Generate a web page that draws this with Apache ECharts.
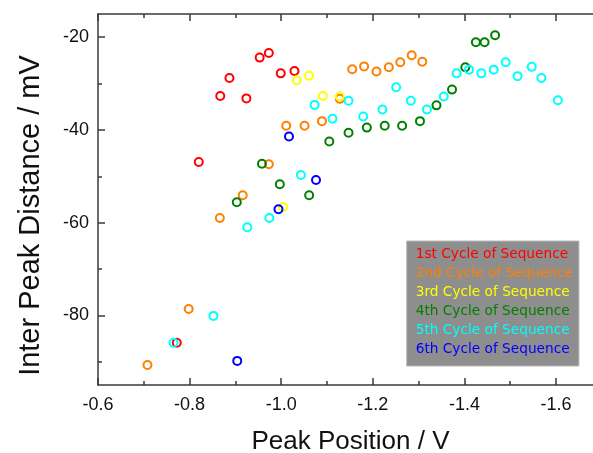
<!DOCTYPE html>
<html>
<head>
<meta charset="utf-8">
<script src="https://cdn.jsdelivr.net/npm/echarts@6/dist/echarts.min.js"></script>
<style>html,body{margin:0;padding:0;background:#fff}#c{width:593px;height:453px}</style>
</head>
<body>
<div id="c"></div>
<script>
const seriesNames = ["1st Cycle of Sequence","2nd Cycle of Sequence","3rd Cycle of Sequence","4th Cycle of Sequence","5th Cycle of Sequence","6th Cycle of Sequence"];
const seriesColors = ["#ff0000","#ff8000","#ffff00","#008000","#00ffff","#0000ff"];

const redX = [-0.953,-0.973,-0.887,-0.999,-1.029,-0.867,-0.924,-0.820,-0.772];
const redY = [-24.4,-23.4,-28.8,-27.8,-27.3,-32.7,-33.2,-46.9,-85.9];
const orangeX = [-1.011,-1.051,-1.089,-0.973,-0.916,-0.866,-0.798,-0.708,-1.128,-1.155,-1.181,-1.208,-1.235,-1.260,-1.285,-1.308];
const orangeY = [-39.1,-39.1,-38.1,-47.4,-54.1,-59.0,-78.6,-90.7,-33.3,-26.9,-26.3,-27.4,-26.5,-25.4,-23.9,-25.3];
const yellowX = [-1.034,-1.061,-1.091,-1.128,-1.004];
const yellowY = [-29.3,-28.3,-32.7,-32.8,-56.6];
const greenX = [-0.903,-0.958,-0.997,-1.061,-1.105,-1.147,-1.187,-1.226,-1.264,-1.303,-1.339,-1.373,-1.402,-1.425,-1.444,-1.467];
const greenY = [-55.6,-47.3,-51.7,-54.1,-42.5,-40.6,-39.5,-39.1,-39.1,-38.1,-34.7,-31.3,-26.5,-21.1,-21.1,-19.6];
const cyanX = [-0.765,-0.852,-0.926,-0.974,-1.043,-1.073,-1.112,-1.147,-1.179,-1.221,-1.251,-1.283,-1.318,-1.355,-1.383,-1.410,-1.437,-1.464,-1.490,-1.516,-1.547,-1.568,-1.604];
const cyanY = [-85.9,-80.1,-61.0,-59.0,-49.7,-34.6,-37.6,-33.7,-37.1,-35.6,-30.8,-33.7,-35.6,-32.8,-27.8,-27.0,-27.8,-27.0,-25.4,-28.4,-26.4,-28.8,-33.6];
const blueX = [-0.904,-0.994,-1.017,-1.076];
const blueY = [-89.8,-57.1,-41.4,-50.8];

const xMajorTicks = [-0.6,-0.8,-1.0,-1.2,-1.4,-1.6];
const xMinorTicks = [-0.7,-0.9,-1.1,-1.3,-1.5,-1.7];
const yMajorTicks = [-20,-40,-60,-80];
const yMinorTicks = [-30,-50,-70,-90];

const allX = [redX, orangeX, yellowX, greenX, cyanX, blueX];
const allY = [redY, orangeY, yellowY, greenY, cyanY, blueY];

const AXC = '#3a3a3a';
const XMIN = -1.7026, XMAX = -0.6, YMIN = -95, YMAX = -15;

function xAxisDef(pos, ticks, len, main) {
  return {
    type: 'value', inverse: true, min: XMIN, max: XMAX, position: pos,
    axisLine: {show: main, onZero: false, lineStyle: {color: AXC, width: 1.5}},
    axisTick: {show: true, inside: true, length: len, customValues: ticks, lineStyle: {color: AXC, width: 1.5}},
    axisLabel: {show: main && pos === 'bottom', customValues: ticks, formatter: v => v.toFixed(1), color: '#111', fontFamily: 'Liberation Sans', fontSize: 18, margin: 11},
    splitLine: {show: false},
    name: (main && pos === 'bottom') ? 'Peak Position / V' : '',
    nameLocation: 'middle', nameGap: 44,
    nameTextStyle: {color: '#111', fontFamily: 'Liberation Sans', fontSize: 26}
  };
}
function yAxisDef(ticks, len, main) {
  return {
    type: 'value', min: YMIN, max: YMAX, position: 'left',
    axisLine: {show: main, onZero: false, lineStyle: {color: AXC, width: 1.5}},
    axisTick: {show: true, inside: true, length: len, customValues: ticks, lineStyle: {color: AXC, width: 1.5}},
    axisLabel: {show: main, customValues: ticks, color: '#111', fontFamily: 'Liberation Sans', fontSize: 18, margin: 9},
    splitLine: {show: false},
    name: main ? 'Inter Peak Distance / mV' : '',
    nameLocation: 'middle', nameGap: 53,
    nameTextStyle: {color: '#111', fontFamily: 'Liberation Sans', fontSize: 29, padding: [0, 32, 0, 0]}
  };
}

const chart = echarts.init(document.getElementById('c'), null, {renderer: 'canvas'});
chart.setOption({
  animation: false,
  backgroundColor: '#fff',
  grid: {left: 98, top: 14, width: 505, height: 371, containLabel: false, outerBoundsMode: 'none'},
  xAxis: [
    xAxisDef('bottom', xMajorTicks, 7, true),
    xAxisDef('bottom', xMinorTicks, 4, false),
    xAxisDef('top', xMajorTicks, 7, true),
    xAxisDef('top', xMinorTicks, 4, false)
  ],
  yAxis: [
    yAxisDef(yMajorTicks, 7, true),
    yAxisDef(yMinorTicks, 4, false)
  ],
  legend: {
    orient: 'vertical', left: 406.7, top: 241,
    icon: 'none', itemWidth: 0, itemHeight: 14, itemGap: 5,
    padding: [6, 6, 10, 4],
    backgroundColor: '#8e8e8e', borderColor: '#b8b8b8', borderWidth: 1,
    selectedMode: false,
    textStyle: {fontFamily: 'DejaVu Sans', fontSize: 13.7},
    data: seriesNames.map((n, i) => ({name: n, textStyle: {color: seriesColors[i]}}))
  },
  series: seriesNames.map((n, i) => ({
    name: n, type: 'scatter', xAxisIndex: 0, yAxisIndex: 0,
    symbol: 'circle', symbolSize: 8,
    itemStyle: {color: 'rgba(0,0,0,0)', borderColor: seriesColors[i], borderWidth: 2, opacity: 1},
    data: allX[i].map((x, j) => [x, allY[i][j]])
  }))
});
</script>
</body>
</html>
